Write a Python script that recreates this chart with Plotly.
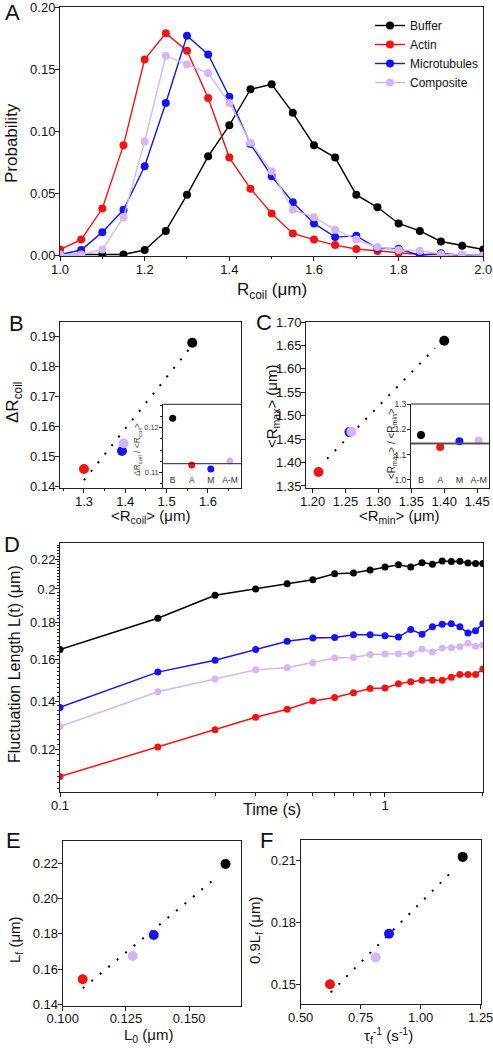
import plotly.graph_objects as go

W, H = 493, 1050
FONT = "Liberation Sans, Arial, sans-serif"

# ---------------- data ----------------
series_names = ["Buffer", "Actin", "Microtubules", "Composite"]
series_colors = ["#000000", "#f01414", "#1414f0", "#d4b6f2"]
inset_labels = ["B", "A", "M", "A-M"]

# Panel A: probability distributions of R_coil
r_coil = [1.00, 1.05, 1.10, 1.15, 1.20, 1.25, 1.30, 1.35, 1.40, 1.45, 1.50,
          1.55, 1.60, 1.65, 1.70, 1.75, 1.80, 1.85, 1.90, 1.95, 2.00]
prob_buffer = [0.001, 0.001, 0.001, 0.001, 0.0046, 0.020, 0.049, 0.080, 0.105, 0.134, 0.138,
               0.115, 0.089, 0.079, 0.049, 0.039, 0.026, 0.020, 0.0115, 0.008, 0.005]
prob_actin = [0.005, 0.013, 0.038, 0.089, 0.158, 0.179, 0.165, 0.127, 0.079, 0.054, 0.034,
              0.018, 0.013, 0.0086, 0.0054, 0.0038, 0.0024, 0.001, 0.001, 0.0005, 0.0003]
prob_micro = [0.001, 0.0046, 0.019, 0.037, 0.072, 0.123, 0.177, 0.162, 0.128, 0.090, 0.064,
              0.043, 0.026, 0.015, 0.016, 0.006, 0.0056, 0.0003, 0.002, 0.0003, 0.0003]
prob_comp = [0.001, 0.001, 0.005, 0.031, 0.092, 0.161, 0.154, 0.147, 0.123, 0.091, 0.068,
             0.037, 0.031, 0.021, 0.013, 0.007, 0.0046, 0.004, 0.0013, 0.001, 0.0003]

# Panel B: <R_coil> vs Delta R_coil (order: Buffer, Actin, Microtubules, Composite)
mean_rcoil = [1.562, 1.300, 1.392, 1.396]
delta_rcoil = [0.1878, 0.1458, 0.1518, 0.1544]
ratio_B = [0.1221, 0.1117, 0.1108, 0.1126]
ratio_B_ref = 0.1120
fit_B = {"slope": 0.1713, "intercept": -0.0806, "x": [1.300, 1.555]}

# Panel C: <R_min> vs <R_max>
mean_rmin = [1.400, 1.209, 1.256, 1.259]
mean_rmax = [1.660, 1.380, 1.465, 1.466]
ratio_C = [1.1775, 1.130, 1.153, 1.1557]
ratio_C_ref = 1.144
fit_C = {"slope": 1.44, "intercept": -0.3517, "x": [1.222, 1.386]}

# Panel D: fluctuation length vs time
time_s = [0.1, 0.2, 0.3, 0.4, 0.5, 0.6, 0.7, 0.8, 0.9, 1.0,
          1.1, 1.2, 1.3, 1.4, 1.5, 1.6, 1.7, 1.8, 1.9, 2.0]
L_buffer = [0.1649, 0.1822, 0.1960, 0.2000, 0.2033, 0.2060, 0.2099, 0.2105, 0.2125, 0.2145,
            0.2161, 0.2145, 0.2175, 0.2164, 0.2186, 0.2182, 0.2184, 0.2173, 0.2169, 0.2169]
L_actin = [0.1101, 0.1210, 0.1278, 0.1330, 0.1364, 0.1400, 0.1416, 0.1437, 0.1457, 0.1459,
           0.1479, 0.1489, 0.1496, 0.1496, 0.1496, 0.1510, 0.1524, 0.1524, 0.1524, 0.1550]
L_micro = [0.1372, 0.1535, 0.1594, 0.1649, 0.1693, 0.1711, 0.1714, 0.1729, 0.1729, 0.1723,
           0.1716, 0.1758, 0.1732, 0.1774, 0.1788, 0.1790, 0.1773, 0.1738, 0.1751, 0.1790]
L_comp = [0.1291, 0.1442, 0.1502, 0.1547, 0.1556, 0.1582, 0.1606, 0.1608, 0.1624, 0.1626,
          0.1627, 0.1627, 0.1652, 0.1636, 0.1657, 0.1659, 0.1664, 0.1683, 0.1667, 0.1674]

# Panel E: L0 vs Lf
L0 = [0.1644, 0.1079, 0.1360, 0.1277]
Lf = [0.2196, 0.1542, 0.1793, 0.1674]
fit_E = {"slope": 1.19, "intercept": 0.0206, "x": [0.108, 0.1615]}

# Panel F: 1/tau_f vs 0.9 Lf
inv_tau = [1.175, 0.622, 0.868, 0.8125]
Lf09 = [0.2118, 0.1500, 0.1745, 0.1630]
fit_F = {"slope": 0.116, "intercept": 0.0736, "x": [0.625, 1.14]}


# ---------------- helpers ----------------
def xdom(p0, p1):
    return [p0 / W, p1 / W]


def ydom(top, bottom):
    return [1 - bottom / H, 1 - top / H]


def px(x):
    return x / W


def py(y):
    return 1 - y / H


LINE = "#222222"


def axis(**kw):
    base = dict(showline=True, linecolor=LINE, linewidth=1, mirror=True,
                ticks="outside", ticklen=4, tickcolor=LINE, tickwidth=1,
                showgrid=False, zeroline=False, automargin=False,
                ticklabelstandoff=-3, ticklabeloverflow="allow",
                tickfont=dict(size=13, color="#111", family=FONT))
    base.update(kw)
    return base


fig = go.Figure()

# Panel A
for name, col, ys in zip(series_names, series_colors,
                         [prob_buffer, prob_actin, prob_micro, prob_comp]):
    fig.add_trace(go.Scatter(x=r_coil, y=ys, mode="lines+markers", name=name,
                             line=dict(color=col, width=1.4),
                             marker=dict(color=col, size=8),
                             xaxis="x", yaxis="y", showlegend=True))


def fit_trace(fit, xa, ya):
    xs = fit["x"]
    ys = [fit["slope"] * v + fit["intercept"] for v in xs]
    return go.Scatter(x=xs, y=ys, mode="lines", showlegend=False, hoverinfo="skip",
                      line=dict(color="black", width=2, dash="2px,9px"),
                      xaxis=xa, yaxis=ya)


def scatter_pts(xs, ys, xa, ya, size):
    for i in range(len(xs)):
        fig.add_trace(go.Scatter(x=[xs[i]], y=[ys[i]], mode="markers", showlegend=False,
                                 marker=dict(color=series_colors[i], size=size),
                                 xaxis=xa, yaxis=ya))


# Panel B
fig.add_trace(fit_trace(fit_B, "x2", "y2"))
scatter_pts(mean_rcoil, delta_rcoil, "x2", "y2", 10)
# B inset
scatter_pts([0, 1, 2, 3], ratio_B, "x3", "y3", 7)

# Panel C
fig.add_trace(fit_trace(fit_C, "x4", "y4"))
scatter_pts(mean_rmin, mean_rmax, "x4", "y4", 10)
# C inset
scatter_pts([0, 1, 2, 3], ratio_C, "x5", "y5", 8)

# Panel D
for name, col, ys in zip(series_names, series_colors, [L_buffer, L_actin, L_micro, L_comp]):
    fig.add_trace(go.Scatter(x=time_s, y=ys, mode="lines+markers", showlegend=False,
                             line=dict(color=col, width=1.5),
                             marker=dict(color=col, size=7),
                             xaxis="x6", yaxis="y6"))

# Panel E
fig.add_trace(fit_trace(fit_E, "x7", "y7"))
scatter_pts(L0, Lf, "x7", "y7", 10)

# Panel F
fig.add_trace(fit_trace(fit_F, "x8", "y8"))
scatter_pts(inv_tau, Lf09, "x8", "y8", 10)

# inset reference lines / top borders
shapes = [
    dict(type="line", xref="x3 domain", yref="y3", x0=0, x1=1, y0=ratio_B_ref, y1=ratio_B_ref,
         line=dict(color=LINE, width=1)),
    dict(type="line", xref="x3 domain", yref="y3 domain", x0=0, x1=1, y0=1, y1=1,
         line=dict(color=LINE, width=1)),
    dict(type="line", xref="x5 domain", yref="y5", x0=0, x1=1, y0=ratio_C_ref, y1=ratio_C_ref,
         line=dict(color="#555", width=2)),
    dict(type="line", xref="x5 domain", yref="y5 domain", x0=0, x1=1, y0=1, y1=1,
         line=dict(color=LINE, width=1)),
]

d_minor = [round(0.106 + 0.002 * i, 3) for i in range(63)]

layout = dict(
    width=W, height=H,
    margin=dict(l=0, r=0, t=0, b=0),
    paper_bgcolor="white", plot_bgcolor="white",
    font=dict(family=FONT, color="#111"),
    showlegend=True,
    legend=dict(x=px(370), y=py(11), xanchor="left", yanchor="top",
                bgcolor="rgba(0,0,0,0)", font=dict(size=12, family=FONT),
                tracegroupgap=0, itemwidth=30),
    shapes=shapes,
    # A
    xaxis=axis(domain=xdom(60, 483.3), anchor="y", range=[1.0, 2.0], dtick=0.2,
               tickformat=".1f", minor=dict(dtick=0.1, ticklen=2, ticks="outside", tickcolor=LINE)),
    yaxis=axis(domain=ydom(7, 256), anchor="x", range=[-0.0002, 0.2002],
               tickvals=[0, 0.05, 0.1, 0.15, 0.2], tickformat=".2f"),
    # B
    xaxis2=axis(domain=xdom(60, 241), anchor="y2", range=[1.242, 1.68], dtick=0.1,
                tickformat=".1f", minor=dict(dtick=0.05, ticklen=2, ticks="outside", tickcolor=LINE)),
    yaxis2=axis(domain=ydom(322, 488), anchor="x2", range=[0.1395, 0.1947], dtick=0.01,
                tickformat=".2f"),
    # B inset
    xaxis3=axis(domain=xdom(163.3, 241), anchor="y3", range=[-0.49, 3.58],
                tickvals=[0, 1, 2, 3], ticktext=inset_labels, showline=False, mirror=False,
                ticks="", ticklabelposition="inside", ticklabelstandoff=0,
                tickfont=dict(size=8.5, color="#333", family=FONT)),
    yaxis3=axis(domain=ydom(404.3, 488), anchor="x3", range=[0.1066, 0.1252],
                tickvals=[0.11, 0.12], ticktext=["0.11", "0.12"], mirror=False,
                ticklen=3, ticklabelstandoff=-1, tickfont=dict(size=7.5, color="#333", family=FONT),
                minor=dict(dtick=0.0025, ticklen=2, ticks="outside", tickcolor=LINE)),
    # C
    xaxis4=axis(domain=xdom(306, 489), anchor="y4", range=[1.19, 1.468], dtick=0.05,
                tickformat=".2f"),
    yaxis4=axis(domain=ydom(322, 488), anchor="x4", range=[1.3457, 1.70], dtick=0.05,
                tickformat=".2f"),
    # C inset
    xaxis5=axis(domain=xdom(411, 489), anchor="y5", range=[-0.52, 3.54],
                tickvals=[0, 1, 2, 3], ticktext=inset_labels, showline=False, mirror=False,
                ticks="", ticklabelposition="inside", ticklabelstandoff=0,
                tickfont=dict(size=9, color="#333", family=FONT)),
    yaxis5=axis(domain=ydom(404, 488), anchor="x5", range=[0.968, 1.30],
                tickvals=[1.0, 1.1, 1.2, 1.3], ticktext=["1.0", "1.1", "1.2", "1.3"],
                mirror=False, ticklen=3, ticklabelstandoff=-1,
                tickfont=dict(size=8.5, color="#333", family=FONT)),
    # D
    xaxis6=axis(domain=xdom(60, 483.3), anchor="y6", type="log", range=[-1, 0.3025],
                tickvals=[0.1, 1], ticktext=["0.1", "1"],
                minor=dict(tickvals=[0.2, 0.3, 0.4, 0.5, 0.6, 0.7, 0.8, 0.9, 2],
                           ticklen=3, ticks="outside", tickcolor=LINE)),
    yaxis6=axis(domain=ydom(542.7, 792.3), anchor="x6", type="log", range=[-0.98, -0.635],
                tickvals=[0.12, 0.14, 0.16, 0.18, 0.2, 0.22],
                ticktext=["0.12", "0.14", "0.16", "0.18", "0.2", "0.22"],
                minor=dict(tickvals=d_minor, ticklen=2, ticks="outside", tickcolor=LINE)),
    # E
    xaxis7=axis(domain=xdom(62.7, 240.7), anchor="y7", range=[0.1, 0.1704], dtick=0.025,
                tickformat=".3f"),
    yaxis7=axis(domain=ydom(840.7, 1005.7), anchor="x7", range=[0.1392, 0.2328], dtick=0.02,
                tickformat=".2f"),
    # F
    xaxis8=axis(domain=xdom(300.7, 480.7), anchor="y8", range=[0.5, 1.25], dtick=0.25,
                tickformat=".2f"),
    yaxis8=axis(domain=ydom(840, 1004.3), anchor="x8", range=[0.1403, 0.22],
                tickvals=[0.15, 0.18, 0.21], tickformat=".2f"),
)
fig.update_layout(**layout)


def ann(text, x, y, size, angle=0, color="#111"):
    return dict(text=text, x=px(x), y=py(y), xref="paper", yref="paper",
                xanchor="center", yanchor="middle", showarrow=False,
                textangle=angle, font=dict(size=size, color=color, family=FONT))


annotations = [
    # panel letters
    ann("A", 12, 12, 22), ann("B", 16, 323, 22), ann("C", 264, 322, 22),
    ann("D", 12, 544, 22), ann("E", 13, 840, 22), ann("F", 266, 840, 22),
    # A titles
    ann("R<sub>coil</sub> (\u03bcm)", 272, 291, 17),
    ann("Probability", 11, 143, 17, -90),
    # B titles
    ann("\u0394R<sub>coil</sub>", 14, 403, 17, -90),
    ann("&lt;R<sub>coil</sub>&gt; (\u03bcm)", 150, 516, 15),
    ann("\u0394R<sub>coil</sub> / &lt;R<sub>coil</sub>&gt;", 137, 450, 8.5, -90, "#444"),
    # C titles
    ann("&lt;R<sub>max</sub>&gt; (\u03bcm)", 272, 406, 15, -90),
    ann("&lt;R<sub>min</sub>&gt; (\u03bcm)", 399, 516, 15),
    ann("&lt;R<sub>max</sub>&gt; / &lt;R<sub>min</sub>&gt;", 392, 444, 10, -90, "#222"),
    # D titles
    ann("Fluctuation Length L(t) (\u03bcm)", 14, 664, 16, -90),
    ann("Time (s)", 272, 809, 16),
    # E titles
    ann("L<sub>f</sub> (\u03bcm)", 15, 940, 15, -90),
    ann("L<sub>0</sub> (\u03bcm)", 148, 1035, 15),
    # F titles
    ann("0.9L<sub>f</sub> (\u03bcm)", 255, 931, 15, -90),
    ann("\u03c4<sub>f</sub><sup>-1</sup> (s<sup>-1</sup>)", 388, 1035, 15),
]
fig.update_layout(annotations=annotations)

fig.write_html("out.html",
               config={"displayModeBar": False},
               post_script="document.body.style.margin='0';"
                           "document.body.style.overflow='hidden';")
